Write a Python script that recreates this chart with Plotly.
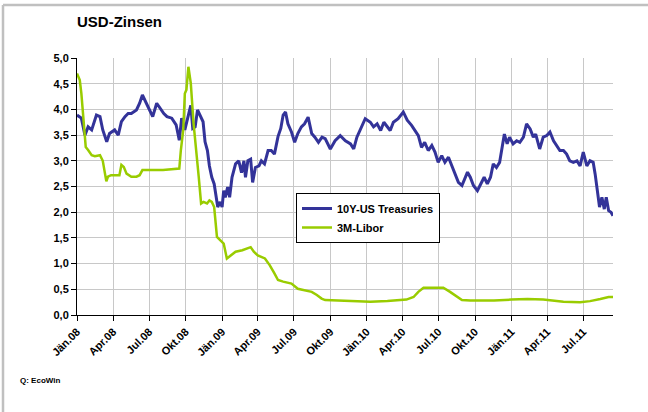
import plotly.graph_objects as go

# ---- data ----
t10_dates = [
    "2008-01-01", "2008-01-12", "2008-01-21", "2008-01-29", "2008-02-07", "2008-02-19", "2008-02-28",
    "2008-03-06", "2008-03-16", "2008-03-23", "2008-04-05", "2008-04-14", "2008-04-22", "2008-05-01",
    "2008-05-09", "2008-05-17", "2008-05-30", "2008-06-07", "2008-06-14", "2008-06-22", "2008-07-02",
    "2008-07-10", "2008-07-20", "2008-07-29", "2008-08-07", "2008-08-15", "2008-08-27", "2008-09-07",
    "2008-09-15", "2008-09-21", "2008-09-29", "2008-10-08", "2008-10-14", "2008-10-19", "2008-10-25",
    "2008-10-31", "2008-11-07", "2008-11-14", "2008-11-19", "2008-11-25", "2008-11-30", "2008-12-06",
    "2008-12-12", "2008-12-17", "2008-12-21", "2008-12-27", "2009-01-01", "2009-01-05", "2009-01-09",
    "2009-01-15", "2009-01-20", "2009-01-26", "2009-02-04", "2009-02-12", "2009-02-19", "2009-02-25",
    "2009-03-01", "2009-03-07", "2009-03-14", "2009-03-19", "2009-03-26", "2009-04-04", "2009-04-10",
    "2009-04-18", "2009-04-27", "2009-05-05", "2009-05-13", "2009-05-22", "2009-05-29", "2009-06-04",
    "2009-06-10", "2009-06-16", "2009-06-25", "2009-07-03", "2009-07-11", "2009-07-20", "2009-07-28",
    "2009-08-06", "2009-08-15", "2009-08-23", "2009-09-01", "2009-09-10", "2009-09-18", "2009-10-01",
    "2009-10-13", "2009-10-26", "2009-11-08", "2009-11-21", "2009-11-29", "2009-12-07", "2009-12-16",
    "2009-12-28", "2010-01-10", "2010-01-18", "2010-01-27", "2010-02-05", "2010-02-13", "2010-02-22",
    "2010-03-01", "2010-03-09", "2010-03-21", "2010-04-03", "2010-04-13", "2010-04-24", "2010-05-02",
    "2010-05-11", "2010-05-19", "2010-05-27", "2010-06-05", "2010-06-14", "2010-06-22", "2010-06-30",
    "2010-07-09", "2010-07-17", "2010-07-26", "2010-08-03", "2010-08-12", "2010-08-20", "2010-08-29",
    "2010-09-06", "2010-09-12", "2010-09-19", "2010-09-27", "2010-10-07", "2010-10-15", "2010-10-24",
    "2010-11-01", "2010-11-09", "2010-11-16", "2010-11-24", "2010-12-02", "2010-12-08", "2010-12-14",
    "2010-12-21", "2010-12-27", "2011-01-05", "2011-01-14", "2011-01-22", "2011-01-31", "2011-02-08",
    "2011-02-17", "2011-02-25", "2011-03-03", "2011-03-13", "2011-03-22", "2011-03-31", "2011-04-08",
    "2011-04-17", "2011-04-25", "2011-05-03", "2011-05-12", "2011-05-20", "2011-05-28", "2011-06-06",
    "2011-06-15", "2011-06-23", "2011-07-01", "2011-07-10", "2011-07-18", "2011-07-26", "2011-07-31",
    "2011-08-06", "2011-08-11", "2011-08-17", "2011-08-23", "2011-08-28", "2011-09-03", "2011-09-09",
    "2011-09-14",
]
t10_values = [
    3.89, 3.83, 3.50, 3.66, 3.60, 3.89, 3.86,
    3.60, 3.37, 3.53, 3.60, 3.50, 3.76, 3.86,
    3.92, 3.92, 3.99, 4.12, 4.28, 4.15, 3.99,
    3.86, 4.12, 4.02, 3.92, 3.86, 3.83, 3.70,
    3.40, 3.83, 3.60, 3.89, 4.08, 3.63, 3.66,
    3.99, 3.86, 3.76, 3.37, 3.20, 2.90, 2.68,
    2.55, 2.29, 2.10, 2.20, 2.10, 2.42, 2.29,
    2.49, 2.29, 2.68, 2.94, 3.00, 2.77, 3.00,
    2.68, 3.00, 3.03, 2.58, 2.87, 2.90, 3.00,
    2.94, 3.20, 3.20, 3.13, 3.47, 3.63, 3.89,
    3.95, 3.72, 3.56, 3.36, 3.53, 3.66, 3.72,
    3.85, 3.53, 3.46, 3.36, 3.46, 3.43, 3.23,
    3.39, 3.49, 3.39, 3.33, 3.23, 3.46, 3.62,
    3.82, 3.75, 3.66, 3.72, 3.59, 3.75, 3.66,
    3.59, 3.75, 3.82, 3.95, 3.79, 3.69, 3.59,
    3.49, 3.26, 3.36, 3.20, 3.30, 3.17, 2.97,
    3.10, 2.97, 3.07, 2.90, 2.71, 2.58, 2.52,
    2.65, 2.78, 2.68, 2.52, 2.42, 2.55, 2.68,
    2.55, 2.68, 2.94, 2.87, 2.97, 3.23, 3.52,
    3.33, 3.46, 3.33, 3.39, 3.36, 3.46, 3.72,
    3.62, 3.46, 3.52, 3.23, 3.46, 3.49, 3.56,
    3.39, 3.30, 3.20, 3.20, 3.13, 3.00, 2.97,
    3.00, 2.90, 3.17, 2.90, 3.00, 2.97, 2.74,
    2.42, 2.10, 2.29, 2.06, 2.29, 2.03, 2.00,
    1.93,
]

libor_dates = [
    "2008-01-01", "2008-01-08", "2008-01-12", "2008-01-16", "2008-01-21", "2008-01-23", "2008-01-29",
    "2008-02-07", "2008-02-15", "2008-02-28", "2008-03-06", "2008-03-10", "2008-03-15", "2008-03-19",
    "2008-03-27", "2008-04-17", "2008-04-22", "2008-04-28", "2008-05-05", "2008-05-17", "2008-05-30",
    "2008-06-07", "2008-06-14", "2008-08-05", "2008-09-15", "2008-09-19", "2008-09-25", "2008-09-29",
    "2008-10-03", "2008-10-08", "2008-10-14", "2008-10-21", "2008-10-28", "2008-11-03", "2008-11-09",
    "2008-11-15", "2008-11-24", "2008-11-30", "2008-12-06", "2008-12-12", "2008-12-19", "2008-12-27",
    "2009-01-05", "2009-01-13", "2009-01-23", "2009-02-04", "2009-02-21", "2009-03-05", "2009-03-14",
    "2009-03-22", "2009-04-01", "2009-04-19", "2009-05-01", "2009-05-13", "2009-05-22", "2009-06-04",
    "2009-06-25", "2009-07-11", "2009-07-28", "2009-08-15", "2009-08-28", "2009-09-09", "2009-09-18",
    "2009-10-17", "2009-11-29", "2010-01-10", "2010-02-22", "2010-03-18", "2010-04-11", "2010-04-29",
    "2010-05-11", "2010-05-24", "2010-07-13", "2010-07-30", "2010-08-16", "2010-08-29", "2010-09-19",
    "2010-11-18", "2011-01-01", "2011-02-10", "2011-03-22", "2011-04-17", "2011-05-12", "2011-06-23",
    "2011-07-18", "2011-08-13", "2011-09-03", "2011-09-14",
]
libor_values = [
    4.70, 4.57, 4.31, 3.92, 3.53, 3.27, 3.21,
    3.11, 3.09, 3.11, 3.00, 2.82, 2.60, 2.69,
    2.72, 2.72, 2.92, 2.88, 2.75, 2.69, 2.69,
    2.72, 2.82, 2.82, 2.85, 3.21, 3.60, 4.31,
    4.38, 4.83, 4.51, 3.73, 3.21, 2.69, 2.17,
    2.20, 2.17, 2.23, 2.20, 2.10, 1.52, 1.45,
    1.39, 1.10, 1.16, 1.23, 1.26, 1.29, 1.32,
    1.23, 1.16, 1.10, 0.97, 0.81, 0.68, 0.65,
    0.61, 0.51, 0.48, 0.45, 0.39, 0.32, 0.29,
    0.28, 0.27, 0.26, 0.27, 0.28, 0.30, 0.35,
    0.45, 0.53, 0.53, 0.45, 0.35, 0.29, 0.28,
    0.28, 0.30, 0.31, 0.30, 0.28, 0.26, 0.25,
    0.27, 0.31, 0.35, 0.35,
]

tick_dates = [
    "2008-01-01", "2008-04-01", "2008-07-01", "2008-10-01",
    "2009-01-01", "2009-04-01", "2009-07-01", "2009-10-01",
    "2010-01-01", "2010-04-01", "2010-07-01", "2010-10-01",
    "2011-01-01", "2011-04-01", "2011-07-01",
]
tick_labels = [
    "Jän.08", "Apr.08", "Jul.08", "Okt.08",
    "Jän.09", "Apr.09", "Jul.09", "Okt.09",
    "Jän.10", "Apr.10", "Jul.10", "Okt.10",
    "Jän.11", "Apr.11", "Jul.11",
]

FONT = "Liberation Sans, Arial, sans-serif"
BLUE = "#333399"
GREEN = "#99CC00"

fig = go.Figure()
fig.add_trace(go.Scatter(x=t10_dates, y=t10_values, mode="lines", name="10Y-US Treasuries",
                         line=dict(color=BLUE, width=3)))
fig.add_trace(go.Scatter(x=libor_dates, y=libor_values, mode="lines", name="3M-Libor",
                         line=dict(color=GREEN, width=2.5)))

W, H = 648, 412
L, R, T, B = 77, 35, 58, 97
pw, ph = W - L - R, H - T - B

def px_x(p):
    return (p - L) / pw

def px_y(p):
    return (H - B - p) / ph

# outer light-gray frame (top and left edges)
fig.add_shape(type="line", xref="paper", yref="paper", x0=px_x(3), x1=px_x(648), y0=px_y(5), y1=px_y(5),
              line=dict(color="#c0c0c0", width=2.5))
fig.add_shape(type="line", xref="paper", yref="paper", x0=px_x(3), x1=px_x(3), y0=px_y(5), y1=px_y(412),
              line=dict(color="#c0c0c0", width=2.5))

fig.update_layout(
    width=W, height=H,
    margin=dict(l=L, r=R, t=T, b=B),
    paper_bgcolor="white", plot_bgcolor="white",
    separators=",.",
    font=dict(family=FONT, color="black"),
    title=dict(text="<b>USD-Zinsen</b>", x=77 / W, xanchor="left",
               y=1 - 22 / H, yanchor="middle", font=dict(size=15, family=FONT, color="black")),
    showlegend=True,
    legend=dict(x=px_x(296), y=px_y(193), xanchor="left", yanchor="top",
                bgcolor="white", bordercolor="black", borderwidth=1,
                font=dict(size=11, family=FONT, color="black", weight="bold"),
                itemwidth=30, tracegroupgap=0),
    annotations=[dict(text="<b>Q: EcoWin</b>", xref="paper", yref="paper",
                      x=px_x(18), y=px_y(380), xanchor="left", yanchor="middle",
                      showarrow=False, font=dict(size=8, family=FONT, color="black"))],
)

fig.update_xaxes(
    type="date", range=["2008-01-01", "2011-09-14"],
    tickmode="array", tickvals=tick_dates, ticktext=tick_labels, tickangle=-45,
    tickfont=dict(size=11, family=FONT, color="black", weight="bold"),
    showgrid=True, gridcolor="#c8c8c8", gridwidth=1,
    showline=True, linecolor="black", linewidth=1,
    ticks="outside", ticklen=5, tickcolor="black",
    zeroline=False,
)
fig.update_yaxes(
    range=[0, 5], tickmode="linear", tick0=0, dtick=0.5, tickformat=".1f",
    tickfont=dict(size=11, family=FONT, color="black", weight="bold"),
    showgrid=True, gridcolor="#c8c8c8", gridwidth=1,
    showline=True, linecolor="black", linewidth=1,
    ticks="outside", ticklen=5, tickcolor="black",
    zeroline=False,
)

fig.write_html(
    "out.html",
    config={"displayModeBar": False},
    post_script=(
        "document.body.style.margin='0';"
        "document.body.style.overflow='hidden';"
        "document.documentElement.style.overflow='hidden';"
    ),
)
